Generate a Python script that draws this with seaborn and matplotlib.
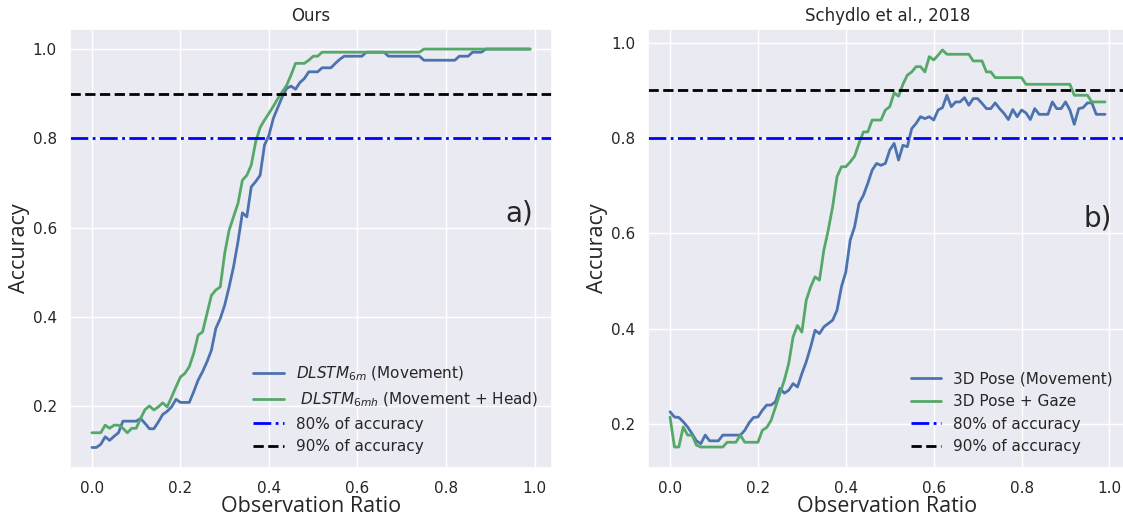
import numpy as np
import pandas as pd
import matplotlib
matplotlib.use("Agg")
import matplotlib.pyplot as plt
import seaborn as sns

# ---------------- data ----------------
ratio = [round(i * 0.01, 2) for i in range(100)]

ours_movement = [
    0.107, 0.107, 0.114, 0.131, 0.123, 0.132, 0.140, 0.166, 0.166, 0.166,
    0.166, 0.172, 0.161, 0.149, 0.149, 0.164, 0.181, 0.188, 0.198, 0.215,
    0.208, 0.208, 0.208, 0.232, 0.258, 0.277, 0.299, 0.325, 0.374, 0.396,
    0.426, 0.467, 0.512, 0.568, 0.633, 0.624, 0.691, 0.703, 0.717, 0.785,
    0.807, 0.845, 0.869, 0.893, 0.912, 0.917, 0.910, 0.925, 0.934, 0.949,
    0.949, 0.949, 0.958, 0.958, 0.958, 0.968, 0.977, 0.984, 0.984, 0.984,
    0.984, 0.984, 0.993, 0.993, 0.993, 0.993, 0.993, 0.984, 0.984, 0.984,
    0.984, 0.984, 0.984, 0.984, 0.984, 0.975, 0.975, 0.975, 0.975, 0.975,
    0.975, 0.975, 0.975, 0.984, 0.984, 0.984, 0.993, 0.993, 0.993, 1.000,
    1.000, 1.000, 1.000, 1.000, 1.000, 1.000, 1.000, 1.000, 1.000, 1.000,
]
ours_movement_head = [
    0.140, 0.140, 0.140, 0.157, 0.150, 0.157, 0.157, 0.150, 0.140, 0.150,
    0.150, 0.172, 0.192, 0.200, 0.191, 0.198, 0.207, 0.198, 0.220, 0.243,
    0.265, 0.273, 0.288, 0.318, 0.359, 0.366, 0.407, 0.448, 0.460, 0.467,
    0.542, 0.594, 0.624, 0.654, 0.706, 0.717, 0.740, 0.792, 0.824, 0.841,
    0.856, 0.872, 0.889, 0.904, 0.919, 0.942, 0.968, 0.968, 0.968, 0.975,
    0.984, 0.984, 0.993, 0.993, 0.993, 0.993, 0.993, 0.993, 0.993, 0.993,
    0.993, 0.993, 0.993, 0.993, 0.993, 0.993, 0.993, 0.993, 0.993, 0.993,
    0.993, 0.993, 0.993, 0.993, 0.993, 1.000, 1.000, 1.000, 1.000, 1.000,
    1.000, 1.000, 1.000, 1.000, 1.000, 1.000, 1.000, 1.000, 1.000, 1.000,
    1.000, 1.000, 1.000, 1.000, 1.000, 1.000, 1.000, 1.000, 1.000, 1.000,
]

schydlo_pose = [
    0.226, 0.215, 0.214, 0.205, 0.194, 0.180, 0.165, 0.159, 0.177, 0.165,
    0.165, 0.165, 0.177, 0.177, 0.177, 0.177, 0.177, 0.187, 0.203, 0.214,
    0.215, 0.229, 0.240, 0.240, 0.247, 0.275, 0.265, 0.271, 0.285, 0.278,
    0.306, 0.331, 0.362, 0.397, 0.390, 0.404, 0.411, 0.418, 0.439, 0.488,
    0.519, 0.586, 0.614, 0.663, 0.680, 0.705, 0.733, 0.747, 0.743, 0.747,
    0.775, 0.789, 0.754, 0.785, 0.782, 0.820, 0.831, 0.845, 0.841, 0.845,
    0.838, 0.859, 0.864, 0.890, 0.866, 0.876, 0.876, 0.885, 0.869, 0.883,
    0.883, 0.873, 0.862, 0.862, 0.874, 0.862, 0.852, 0.839, 0.860, 0.845,
    0.859, 0.853, 0.839, 0.862, 0.850, 0.850, 0.850, 0.876, 0.862, 0.862,
    0.876, 0.859, 0.829, 0.862, 0.864, 0.874, 0.874, 0.850, 0.850, 0.850,
]
schydlo_pose_gaze = [
    0.215, 0.152, 0.152, 0.194, 0.177, 0.177, 0.156, 0.152, 0.152, 0.152,
    0.152, 0.152, 0.152, 0.162, 0.162, 0.162, 0.177, 0.162, 0.162, 0.162,
    0.162, 0.187, 0.193, 0.208, 0.236, 0.264, 0.292, 0.327, 0.383, 0.407,
    0.393, 0.460, 0.488, 0.509, 0.502, 0.565, 0.607, 0.656, 0.719, 0.740,
    0.740, 0.750, 0.762, 0.789, 0.813, 0.813, 0.838, 0.838, 0.838, 0.859,
    0.866, 0.895, 0.888, 0.913, 0.932, 0.939, 0.950, 0.950, 0.939, 0.971,
    0.964, 0.974, 0.985, 0.976, 0.976, 0.976, 0.976, 0.976, 0.976, 0.962,
    0.962, 0.962, 0.939, 0.939, 0.927, 0.927, 0.927, 0.927, 0.927, 0.927,
    0.927, 0.913, 0.913, 0.913, 0.913, 0.913, 0.913, 0.913, 0.913, 0.913,
    0.913, 0.913, 0.890, 0.890, 0.890, 0.890, 0.876, 0.876, 0.876, 0.876,
]

thresholds = [0.8, 0.9]
threshold_labels = ["80% of accuracy", "90% of accuracy"]

titles = ["Ours", "Schydlo et al., 2018"]
panel_tags = ["a)", "b)"]
left_labels = [r"$DLSTM_{6m}$ (Movement)", r" $DLSTM_{6mh}$ (Movement + Head)"]
right_labels = ["3D Pose (Movement)", "3D Pose + Gaze"]

# ---------------- plot ----------------
sns.set_theme(style="darkgrid", palette="deep")
plt.rcParams["font.family"] = ["DejaVu Sans"]

W, H = 1123, 520
fig = plt.figure(figsize=(W / 100, H / 100), dpi=100)
ax1 = fig.add_axes([70 / W, 52 / H, 482 / W, 439 / H])
ax2 = fig.add_axes([648.3 / W, 52 / H, 478.5 / W, 439 / H])

blue = sns.color_palette("deep")[0]
green = sns.color_palette("deep")[2]

panels = [
    (ax1, ours_movement, ours_movement_head, left_labels, (0.061, 1.045)),
    (ax2, schydlo_pose, schydlo_pose_gaze, right_labels, (0.108, 1.029)),
]

for i, (ax, s1, s2, labs, ylim) in enumerate(panels):
    df = pd.DataFrame({"ratio": ratio, "a": s1, "b": s2})
    sns.lineplot(data=df, x="ratio", y="a", ax=ax, color=blue, lw=2, label=labs[0])
    sns.lineplot(data=df, x="ratio", y="b", ax=ax, color=green, lw=2, label=labs[1])
    ax.axhline(thresholds[0], color="blue", ls="-.", lw=2, label=threshold_labels[0])
    ax.axhline(thresholds[1], color="black", ls="--", lw=2, label=threshold_labels[1])
    ax.set_xlim(-0.0495, 1.0395)
    ax.set_ylim(*ylim)
    ax.set_xticks([0.0, 0.2, 0.4, 0.6, 0.8, 1.0])
    ax.set_yticks([0.2, 0.4, 0.6, 0.8, 1.0])
    ax.tick_params(labelsize=11)
    ax.set_title(titles[i], fontsize=12, pad=6)
    ax.set_xlabel("Observation Ratio", fontsize=15.5, labelpad=0,
                  family=["Open Sans", "DejaVu Sans"])
    ax.set_ylabel("Accuracy", fontsize=15.5, labelpad=2,
                  family=["Open Sans", "DejaVu Sans"])
    ax.legend(loc="lower right", fontsize=11, frameon=False, handletextpad=0.8)
    ax.text(0.997 if i == 0 else 1.006, 0.632, panel_tags[i], fontsize=20,
            ha="right", va="center")

fig.savefig("out.png", dpi=100)
